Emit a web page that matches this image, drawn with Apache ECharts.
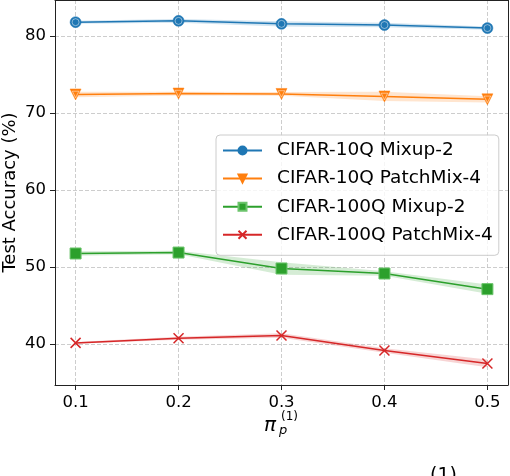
<!DOCTYPE html>
<html>
<head>
<meta charset="utf-8">
<script src="https://cdn.jsdelivr.net/npm/echarts@6/dist/echarts.min.js"></script>
<style>
html,body{margin:0;padding:0;background:#fff;}
#chart{width:510px;height:476px;}
</style>
</head>
<body>
<div id="chart"></div>
<script>
// ---- data ----
const xValues = [0.1, 0.2, 0.3, 0.4, 0.5];
const yTicks = [40, 50, 60, 70, 80];
const seriesNames = ['CIFAR-10Q Mixup-2', 'CIFAR-10Q PatchMix-4', 'CIFAR-100Q Mixup-2', 'CIFAR-100Q PatchMix-4'];
const cifar10Mixup = [81.82, 81.99, 81.60, 81.45, 81.05];
const cifar10MixupErr = [0.20, 0.25, 0.35, 0.30, 0.22];
const cifar10Patch = [72.43, 72.55, 72.50, 72.17, 71.80];
const cifar10PatchErr = [0.35, 0.25, 0.25, 0.60, 0.40];
const cifar100Mixup = [51.78, 51.90, 49.83, 49.18, 47.15];
const cifar100MixupErr = [0.30, 0.22, 0.80, 0.30, 0.60];
const cifar100Patch = [40.17, 40.78, 41.13, 39.18, 37.50];
const cifar100PatchErr = [0.12, 0.20, 0.30, 0.30, 0.50];

const colors = ['#1f77b4', '#ff7f0e', '#2ca02c', '#d62728'];
const bandColors = ['rgba(31,119,180,0.2)', 'rgba(255,127,14,0.2)', 'rgba(44,160,44,0.2)', 'rgba(214,39,40,0.2)'];
const means = [cifar10Mixup, cifar10Patch, cifar100Mixup, cifar100Patch];
const errs = [cifar10MixupErr, cifar10PatchErr, cifar100MixupErr, cifar100PatchErr];
const symbols = ['circle', 'triangle', 'rect', 'path://M0,0L10,10M10,0L0,10'];
const symbolRot = [0, 180, 0, 0];

const FONT = 'DejaVu Sans';
const series = [];
means.forEach((m, g) => {
  const e = errs[g];
  series.push({
    type: 'custom', silent: true, z: 1,
    data: xValues.map((x, i) => [x, m[i] - e[i], m[i] + e[i]]),
    encode: {x: 0, y: [1, 2]},
    renderItem: function (params, api) {
      if (params.dataIndex !== 0) return null;
      const up = xValues.map((x, i) => api.coord([x, m[i] + e[i]]));
      const lo = xValues.map((x, i) => api.coord([x, m[i] - e[i]])).reverse();
      return {type: 'polygon', shape: {points: up.concat(lo)}, style: {fill: bandColors[g], stroke: null}};
    }
  });
  const main = {
    name: seriesNames[g], type: 'line', z: 3,
    data: xValues.map((x, i) => [x, m[i]]),
    symbol: symbols[g], symbolRotate: symbolRot[g], symbolSize: g === 3 ? 10 : 11,
    showAllSymbol: true,
    lineStyle: {color: colors[g], width: 1.5},
    itemStyle: {color: colors[g], borderColor: colors[g], borderWidth: g === 3 ? 1.5 : 0.5}
  };
  if (g === 2) { main.itemStyle.borderColor = '#6cc46c'; main.itemStyle.borderWidth = 1; }
  series.push(main);
  if (g === 0 || g === 1) {
    series.push({
      type: 'scatter', silent: true, z: 4,
      symbol: symbols[g], symbolRotate: symbolRot[g], symbolSize: g === 0 ? 7 : 6.5,
      itemStyle: {color: 'rgba(0,0,0,0)', borderColor: 'rgba(255,255,255,0.75)', borderWidth: 0.8},
      data: xValues.map((x, i) => [x, m[i]])
    });
  }
});

const chart = echarts.init(document.getElementById('chart'));
chart.setOption({
  animation: false,
  backgroundColor: '#fff',
  textStyle: {fontFamily: FONT},
  grid: {left: 55, right: 2, top: 0, bottom: 91, containLabel: false, outerBoundsMode: 'none'},
  legend: {
    data: seriesNames, orient: 'vertical', left: 216, top: 135,
    itemWidth: 39, itemHeight: 10, itemGap: 9.1,
    padding: [6, 6, 11, 6],
    backgroundColor: 'rgba(255,255,255,0.8)', borderColor: '#cccccc', borderWidth: 1, borderRadius: 4,
    textStyle: {fontFamily: FONT, fontSize: 18.5, lineHeight: 18, color: '#000', padding: [0, 0, 0, 10]}
  },
  xAxis: [{
    type: 'value', min: 0.08, max: 0.52, position: 'bottom',
    axisLine: {show: true, onZero: false, lineStyle: {color: '#222', width: 1}},
    axisTick: {show: true, length: 5, customValues: xValues, lineStyle: {color: '#222'}},
    axisLabel: {customValues: xValues, formatter: v => v.toFixed(1), fontFamily: FONT, fontSize: 16.5, color: '#000', margin: 9},
    splitLine: {show: true, lineStyle: {color: '#c0c0c0', type: [4, 2], width: 0.8}}
  }, {
    type: 'value', min: 0.08, max: 0.52, position: 'top',
    axisLine: {show: true, onZero: false, lineStyle: {color: '#222', width: 1}},
    axisTick: {show: false}, axisLabel: {show: false}, splitLine: {show: false}
  }],
  yAxis: [{
    type: 'value', min: 34.7, max: 84.7, position: 'left',
    name: 'Test Accuracy (%)', nameLocation: 'middle', nameGap: 36, nameMoveOverlap: false,
    nameTextStyle: {fontFamily: FONT, fontSize: 18, color: '#000'},
    axisLine: {show: true, onZero: false, lineStyle: {color: '#222', width: 1}},
    axisTick: {show: true, length: 5, customValues: yTicks, lineStyle: {color: '#222'}},
    axisLabel: {customValues: yTicks, fontFamily: FONT, fontSize: 16.5, color: '#000', margin: 9},
    splitLine: {show: true, lineStyle: {color: '#c0c0c0', type: [4, 2], width: 0.8}}
  }, {
    type: 'value', min: 34.7, max: 84.7, position: 'right',
    axisLine: {show: true, onZero: false, lineStyle: {color: '#222', width: 1}},
    axisTick: {show: false}, axisLabel: {show: false}, splitLine: {show: false}
  }],
  graphic: [
    {type: 'text', left: 264, top: 416, style: {text: 'π', font: 'italic 20px "DejaVu Sans"', fill: '#000'}},
    {type: 'text', left: 279, top: 424, style: {text: 'p', font: 'italic 13px "DejaVu Sans"', fill: '#000'}},
    {type: 'text', left: 281, top: 411, style: {text: '(1)', font: '12px "DejaVu Sans"', fill: '#000'}},
    {type: 'text', left: 430, top: 467, style: {text: '(1)', font: '19px "DejaVu Sans"', fill: '#000'}}
  ],
  series: series
});
</script>
</body>
</html>
